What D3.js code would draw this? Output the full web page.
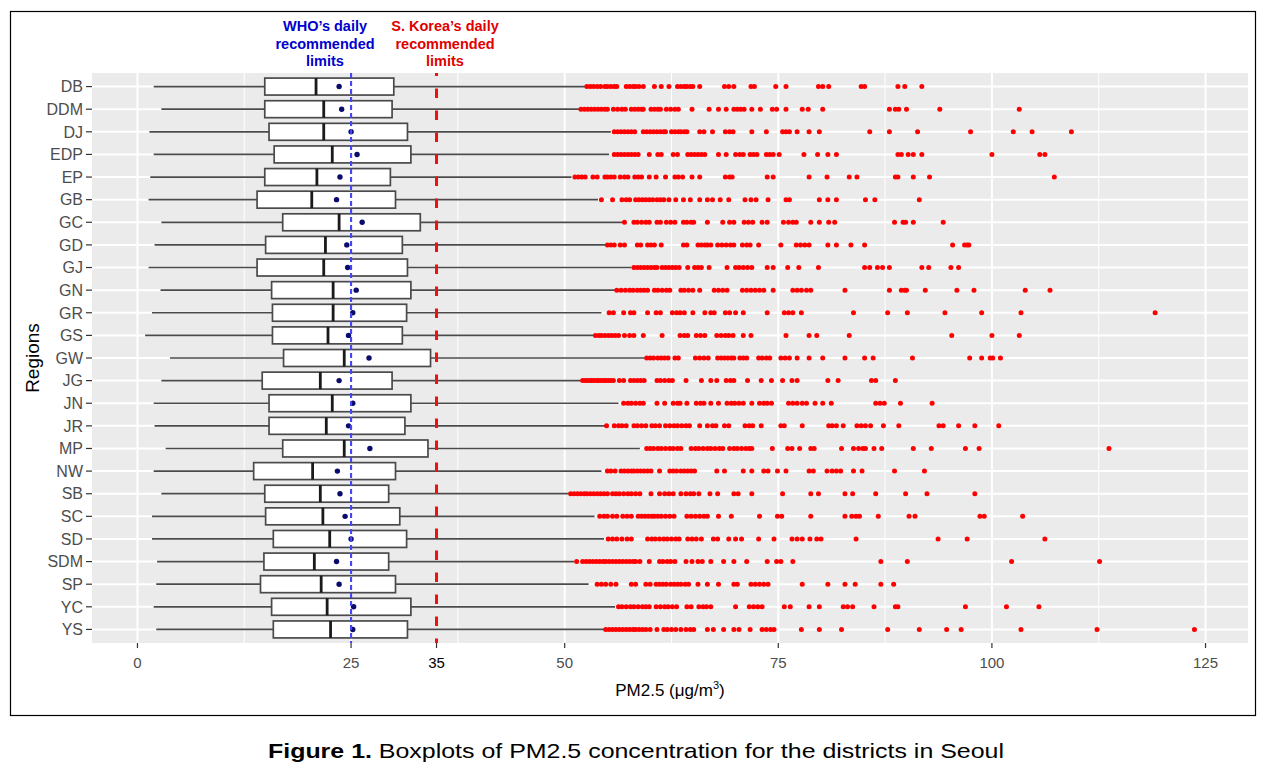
<!DOCTYPE html>
<html>
<head>
<meta charset="utf-8">
<script src="https://cdn.jsdelivr.net/npm/d3@7"></script>
<style>
  html, body { margin: 0; padding: 0; background: #ffffff; }
  svg { display: block; }
</style>
</head>
<body>
<svg id="chart" width="1276" height="769"></svg>
<script>
// ---------------- data ----------------
const regions = ["DB","DDM","DJ","EDP","EP","GB","GC","GD","GJ","GN","GR","GS","GW","JG","JN","JR","MP","NW","SB","SC","SD","SDM","SP","YC","YS"];
const lowerWhisker = [1.9,2.8,1.4,1.9,1.5,1.3,2.8,2.0,1.3,2.7,1.7,0.9,3.8,2.8,1.9,2.0,3.3,1.9,2.8,1.7,1.7,2.3,2.2,1.9,2.2];
const q1Values     = [14.9,14.9,15.4,16.0,14.9,14.0,17.0,15.0,14.0,15.7,15.8,15.8,17.1,14.6,15.4,15.4,17.0,13.6,14.9,15.0,15.9,14.8,14.4,15.7,15.9];
const medianValues = [20.9,21.8,21.8,22.8,21.0,20.4,23.6,22.0,21.8,22.9,22.9,22.3,24.2,21.4,22.8,22.1,24.2,20.5,21.4,21.7,22.5,20.7,21.5,22.2,22.6];
const q3Values     = [30.0,29.8,31.6,32.0,29.6,30.2,33.1,31.0,31.6,32.0,31.5,31.0,34.3,29.8,32.0,31.3,34.0,30.2,29.4,30.7,31.5,29.4,30.2,32.0,31.6];
const upperWhisker = [52.4,51.7,55.4,55.2,50.8,53.9,57.0,54.8,57.8,56.0,54.3,53.5,59.5,51.9,56.3,54.8,58.8,54.3,50.6,53.5,54.6,51.1,52.8,55.9,54.7];
const meanValues   = [23.6,23.9,25.0,25.7,23.7,23.3,26.3,24.5,24.6,25.6,25.2,24.7,27.1,23.6,25.2,24.7,27.2,23.4,23.7,24.3,25.0,23.3,23.6,25.3,25.2];

// outliers, in the same order as regions
const outlierValues = [
  [52.6,53.0,53.4,53.8,54.2,54.7,55.0,55.4,55.8,56.1,57.2,57.6,58.0,58.3,58.7,59.2,60.5,61.3,62.2,63.2,63.6,64.0,64.3,64.7,65.0,65.8,68.7,69.2,69.8,71.8,72.2,74.7,75.9,79.7,80.2,80.9,84.7,85.1,89.0,89.8,91.8],
  [51.9,52.3,52.7,53.1,53.5,53.9,54.3,54.7,55.0,55.7,56.2,56.7,57.1,57.8,58.2,58.6,59.0,59.2,60.1,60.5,60.9,61.2,61.9,62.4,62.9,63.3,64.9,66.9,68.0,68.9,69.8,70.2,70.6,71.0,71.9,72.9,74.3,74.8,75.9,77.8,78.5,80.2,88.0,88.7,89.1,90.0,93.9,103.2],
  [55.8,56.2,56.6,57.0,57.4,57.8,58.2,59.2,59.6,60.0,60.4,60.8,61.2,61.6,61.8,62.5,62.9,63.3,63.6,64.0,64.3,65.8,66.3,67.3,68.8,69.3,69.7,71.9,73.6,75.5,75.9,76.3,77.2,78.6,79.8,85.7,88.0,91.3,97.5,102.5,104.7,109.3],
  [55.8,56.2,56.6,57.0,57.4,57.8,58.2,58.6,59.9,60.9,61.3,62.7,63.2,64.4,64.8,65.2,65.6,66.0,66.4,68.0,68.9,70.0,70.5,70.9,71.7,72.1,72.5,73.6,74.0,74.4,75.1,78.0,79.6,80.8,81.8,89.0,89.4,90.2,90.8,91.8,100.0,105.6,106.2],
  [51.2,51.6,52.0,52.4,53.3,53.8,54.7,55.0,55.4,55.8,56.5,57.0,57.4,58.2,58.6,59.0,59.9,60.7,61.8,62.9,63.3,63.8,64.9,65.8,68.8,69.3,69.6,73.7,74.4,78.6,80.7,83.3,84.2,88.7,89.0,90.8,92.7,107.3],
  [54.3,55.6,56.7,57.2,57.6,58.3,58.7,59.1,59.5,59.9,60.3,60.8,61.2,61.6,62.2,63.0,63.9,64.7,65.8,66.7,67.3,68.2,69.2,71.1,71.8,72.4,73.8,75.9,76.3,79.8,80.8,81.8,85.2,86.3,91.5],
  [57.0,58.1,58.5,59.0,59.5,59.9,60.8,61.2,61.9,62.4,62.9,63.9,64.3,64.8,65.1,66.7,68.5,69.3,69.8,71.0,71.5,72.0,73.1,73.7,75.6,76.2,76.7,77.1,78.8,79.8,80.9,81.6,88.6,89.6,89.9,90.8,94.3],
  [55.0,55.4,55.8,56.5,57.0,58.5,58.9,59.7,60.1,60.5,61.3,63.9,64.3,65.6,66.0,66.4,66.7,67.1,67.9,68.4,68.9,69.4,69.8,70.8,71.3,71.7,72.7,75.3,77.1,77.6,78.1,78.6,80.8,81.8,83.5,85.1,95.4,96.8,97.1,97.3],
  [58.1,58.5,58.9,59.3,59.7,60.1,60.5,60.8,61.4,61.8,62.2,62.6,63.0,63.4,64.4,65.2,65.6,66.0,66.9,69.0,70.0,70.4,70.9,71.4,71.9,73.7,74.4,76.1,77.4,79.7,85.1,85.7,86.6,87.2,88.0,91.8,92.6,95.2,96.1],
  [56.1,56.6,57.1,57.6,58.0,58.5,58.9,59.3,59.7,60.5,60.9,61.4,61.9,62.3,63.6,64.0,64.5,65.0,65.8,67.5,68.0,68.5,69.0,70.8,71.3,71.8,72.3,72.8,73.3,74.4,76.7,77.2,77.7,78.3,78.8,82.8,88.0,89.4,89.8,90.0,92.2,95.9,97.9,103.9,106.8],
  [55.2,55.7,56.9,57.7,58.1,59.7,60.7,61.2,62.6,63.1,63.5,64.0,65.0,66.4,67.1,67.5,68.8,69.3,70.0,70.9,73.7,75.7,76.2,76.7,77.7,83.8,87.8,90.1,94.5,98.8,103.4,119.1],
  [53.6,54.0,54.3,54.7,55.1,55.5,55.9,56.3,57.0,57.6,58.1,59.2,61.4,63.5,64.0,64.4,65.4,65.9,66.4,67.8,68.3,68.8,69.2,69.7,70.9,71.8,75.9,78.6,79.5,83.3,95.3,100.0,103.2],
  [59.6,60.0,60.4,60.9,61.3,61.7,62.1,62.9,63.3,65.3,65.8,66.3,66.8,67.9,68.3,68.7,69.1,69.5,69.8,70.5,70.9,71.3,72.7,73.1,73.6,74.0,75.3,75.8,76.3,77.2,78.6,80.2,82.8,85.1,86.1,90.7,97.4,98.8,99.8,100.1,101.0],
  [52.1,52.4,52.7,53.0,53.2,53.5,53.8,54.0,54.3,54.6,54.8,55.1,55.4,55.7,56.4,56.9,57.7,58.1,58.5,58.9,59.3,60.8,61.2,61.7,62.2,62.6,64.2,66.0,67.1,67.8,68.9,69.4,69.8,71.4,73.0,74.2,75.5,76.6,77.2,80.8,82.0,85.9,86.4,88.7],
  [56.9,57.4,57.8,58.3,58.8,59.2,60.8,61.7,62.7,63.2,63.5,64.3,65.4,65.9,66.3,67.1,68.0,69.0,69.5,69.9,70.4,70.9,71.9,72.8,73.3,73.7,74.2,76.2,76.7,77.2,77.8,78.3,79.3,80.2,81.2,86.4,86.9,87.4,89.3,93.0],
  [54.9,55.8,56.3,56.7,57.2,58.1,58.5,59.0,59.5,60.2,60.6,61.1,61.8,62.3,62.8,63.2,63.7,64.2,64.6,65.8,66.7,67.3,67.7,68.7,69.2,71.1,71.6,72.0,73.0,75.3,75.7,77.8,80.9,81.3,81.8,82.6,84.2,84.7,85.2,85.8,87.3,89.1,93.8,94.3,96.1,98.0,100.8],
  [59.6,60.0,60.4,60.9,61.3,61.8,62.3,62.7,63.2,63.6,64.8,65.3,65.7,66.2,66.7,67.1,67.6,68.1,68.5,69.3,69.8,70.2,70.7,71.2,71.6,71.9,74.3,76.1,76.6,77.5,78.8,79.2,82.4,83.8,84.4,84.9,85.2,86.2,87.1,90.8,92.9,96.9,98.5,113.7],
  [55.0,55.4,55.9,56.6,57.0,57.4,57.8,58.1,58.5,58.9,59.3,59.7,60.1,61.1,62.3,62.7,63.1,63.6,64.0,64.4,64.8,65.2,67.8,68.7,70.9,71.9,73.3,73.8,74.9,75.9,78.6,79.1,80.7,81.3,81.8,82.3,83.8,84.8,88.6,92.1],
  [50.7,51.1,51.5,51.9,52.3,52.6,53.0,53.4,53.8,54.2,54.6,55.0,55.6,56.0,56.4,56.9,57.4,57.8,58.3,58.8,60.1,61.1,61.7,62.2,62.7,63.6,64.2,64.7,65.1,65.7,67.0,67.9,69.8,70.3,71.9,75.5,78.8,79.7,82.8,83.7,86.4,89.9,92.4,98.0],
  [54.1,54.6,55.0,55.6,56.1,56.8,57.3,57.8,58.6,59.0,59.4,59.8,60.2,60.5,60.9,61.3,61.8,62.3,62.8,64.3,64.8,65.3,65.8,66.3,66.7,68.0,69.5,72.8,74.9,75.4,78.8,82.8,83.6,84.1,84.5,86.7,90.3,91.0,98.6,99.1,103.6],
  [55.1,55.6,56.1,56.7,57.3,57.8,59.7,60.2,60.6,61.1,61.6,62.0,62.5,63.0,63.4,64.4,64.9,65.4,66.0,67.4,67.9,69.2,70.0,70.7,72.7,74.5,76.6,77.2,77.8,78.7,79.5,80.0,84.1,93.7,97.1,106.2],
  [51.4,52.1,52.5,52.9,53.3,53.7,54.1,54.5,54.8,55.2,55.6,56.0,56.4,56.8,57.2,57.6,58.0,58.3,58.8,59.9,61.1,61.5,62.0,62.4,62.9,64.2,64.9,65.6,66.1,67.1,68.6,69.8,71.3,73.7,74.8,75.3,76.7,87.0,90.1,102.3,112.6],
  [53.8,54.3,54.8,55.4,56.0,57.8,58.3,59.5,60.0,60.7,61.1,61.5,61.9,62.4,62.8,63.2,63.6,64.1,64.5,65.6,66.7,68.0,69.8,70.2,71.8,72.3,72.8,73.3,73.8,77.8,80.8,82.8,84.0,87.0,88.5],
  [56.3,56.7,57.2,57.7,58.1,58.6,59.1,59.5,59.9,60.7,61.2,61.7,62.1,62.6,63.1,64.3,64.8,65.7,66.2,66.6,67.1,70.0,71.6,72.1,72.6,73.1,75.7,76.4,78.6,79.8,82.6,83.1,83.7,86.2,88.7,89.0,96.9,101.7,105.5],
  [54.8,55.2,55.6,56.0,56.4,56.8,57.2,57.6,58.0,58.3,58.7,59.1,59.5,60.0,60.8,61.6,62.0,62.5,63.0,63.6,64.2,64.7,65.1,66.7,67.4,68.6,69.8,70.4,71.7,73.1,73.6,74.1,74.5,77.7,79.8,82.4,87.8,91.5,94.7,96.4,103.4,112.3,123.7]
];

const xTicks = [0, 25, 50, 75, 100, 125];
const xMinorTicks = [12.5, 37.5, 62.5, 87.5, 112.5];
const whoLimit = 25;
const koreaLimit = 35;
const whoLabel = ["WHO\u2019s daily", "recommended", "limits"];
const koreaLabel = ["S. Korea\u2019s daily", "recommended", "limits"];

// ---------------- layout ----------------
const svg = d3.select("#chart");
const panel = { left: 92, right: 1248, top: 73, bottom: 643 };

const x = d3.scaleLinear().domain([-5.32, 129.97]).range([panel.left, panel.right]);
const y = d3.scalePoint().domain(regions).range([panel.top, panel.bottom]).padding(0.6);
const boxH = y.step() * 0.75;

// outer frame
svg.append("rect").attr("x", 10.5).attr("y", 11.5).attr("width", 1245).attr("height", 704)
  .attr("fill", "none").attr("stroke", "#000").attr("stroke-width", 1.2);

// panel
svg.append("rect").attr("x", panel.left).attr("y", panel.top)
  .attr("width", panel.right - panel.left).attr("height", panel.bottom - panel.top)
  .attr("fill", "#EBEBEB");

const grid = svg.append("g");
grid.selectAll("line.minor").data(xMinorTicks).join("line")
  .attr("x1", d => x(d)).attr("x2", d => x(d))
  .attr("y1", panel.top).attr("y2", panel.bottom)
  .attr("stroke", "#fff").attr("stroke-width", 1);
grid.selectAll("line.majx").data(xTicks).join("line")
  .attr("x1", d => x(d)).attr("x2", d => x(d))
  .attr("y1", panel.top).attr("y2", panel.bottom)
  .attr("stroke", "#fff").attr("stroke-width", 2);
grid.selectAll("line.majy").data(regions).join("line")
  .attr("x1", panel.left).attr("x2", panel.right)
  .attr("y1", d => y(d)).attr("y2", d => y(d))
  .attr("stroke", "#fff").attr("stroke-width", 2);

// boxplots
const rows = regions.map((r, i) => ({
  r, lo: lowerWhisker[i], q1: q1Values[i], med: medianValues[i], q3: q3Values[i],
  hi: upperWhisker[i], mean: meanValues[i], out: outlierValues[i]
}));

const bp = svg.append("g");
bp.selectAll("line.wl").data(rows).join("line")
  .attr("x1", d => x(d.lo)).attr("x2", d => x(d.q1))
  .attr("y1", d => y(d.r)).attr("y2", d => y(d.r))
  .attr("stroke", "#4a4a4a").attr("stroke-width", 1.7);
bp.selectAll("line.wh").data(rows).join("line")
  .attr("x1", d => x(d.q3)).attr("x2", d => x(d.hi))
  .attr("y1", d => y(d.r)).attr("y2", d => y(d.r))
  .attr("stroke", "#4a4a4a").attr("stroke-width", 1.7);
bp.selectAll("rect.box").data(rows).join("rect")
  .attr("x", d => x(d.q1)).attr("width", d => x(d.q3) - x(d.q1))
  .attr("y", d => y(d.r) - boxH / 2).attr("height", boxH)
  .attr("fill", "#fff").attr("stroke", "#4a4a4a").attr("stroke-width", 1.7);
bp.selectAll("line.med").data(rows).join("line")
  .attr("x1", d => x(d.med)).attr("x2", d => x(d.med))
  .attr("y1", d => y(d.r) - boxH / 2).attr("y2", d => y(d.r) + boxH / 2)
  .attr("stroke", "#1a1a1a").attr("stroke-width", 2.8);

// outliers
const outG = svg.append("g");
rows.forEach(d => {
  outG.selectAll(null).data(d.out).join("circle")
    .attr("cx", v => x(v)).attr("cy", y(d.r)).attr("r", 2.5)
    .attr("fill", "#FF0000");
});

// limit lines
svg.append("line")
  .attr("x1", x(whoLimit)).attr("x2", x(whoLimit))
  .attr("y1", panel.top).attr("y2", panel.bottom)
  .attr("stroke", "#4545f2").attr("stroke-width", 2.1)
  .attr("stroke-dasharray", "5,3");
svg.append("line")
  .attr("x1", x(koreaLimit)).attr("x2", x(koreaLimit))
  .attr("y1", panel.top).attr("y2", panel.bottom)
  .attr("stroke", "#F01010").attr("stroke-width", 3)
  .attr("stroke-dasharray", "9.5,12.5").attr("stroke-dashoffset", 6.5);

// mean points
bp.append("g").selectAll("circle").data(rows).join("circle")
  .attr("cx", d => x(d.mean)).attr("cy", d => y(d.r)).attr("r", 2.7)
  .attr("fill", "#0b0b6b");

// y axis
const yAxis = svg.append("g");
yAxis.selectAll("line").data(regions).join("line")
  .attr("x1", panel.left - 6).attr("x2", panel.left)
  .attr("y1", d => y(d)).attr("y2", d => y(d))
  .attr("stroke", "#333").attr("stroke-width", 1.2);
yAxis.selectAll("text").data(regions).join("text")
  .attr("x", panel.left - 9).attr("y", d => y(d)).attr("dy", "0.36em")
  .attr("text-anchor", "end").attr("fill", "#4D4D4D")
  .attr("font-family", "Liberation Sans, Arial, sans-serif").attr("font-size", 16)
  .text(d => d);

// x axis
const xAxis = svg.append("g");
xAxis.selectAll("line").data(xTicks.concat([koreaLimit])).join("line")
  .attr("x1", d => x(d)).attr("x2", d => x(d))
  .attr("y1", panel.bottom).attr("y2", panel.bottom + 5)
  .attr("stroke", "#333").attr("stroke-width", 1.2);
xAxis.selectAll("text.tk").data(xTicks).join("text")
  .attr("x", d => x(d)).attr("y", 668)
  .attr("text-anchor", "middle").attr("fill", "#4D4D4D")
  .attr("font-family", "Liberation Sans, Arial, sans-serif").attr("font-size", 15)
  .text(d => d);
xAxis.append("text")
  .attr("x", x(koreaLimit)).attr("y", 668)
  .attr("text-anchor", "middle").attr("fill", "#000")
  .attr("font-family", "Liberation Sans, Arial, sans-serif").attr("font-size", 15)
  .text(koreaLimit);

// axis titles
const xt = svg.append("text")
  .attr("x", (panel.left + panel.right) / 2).attr("y", 696)
  .attr("text-anchor", "middle").attr("fill", "#000")
  .attr("font-family", "Liberation Sans, Arial, sans-serif").attr("font-size", 17);
xt.append("tspan").text("PM2.5 (\u03BCg/m");
xt.append("tspan").attr("font-size", 11).attr("dy", -7).text("3");
xt.append("tspan").attr("dy", 7).text(")");

svg.append("text")
  .attr("transform", `translate(39,${(panel.top + panel.bottom) / 2}) rotate(-90)`)
  .attr("text-anchor", "middle").attr("fill", "#000")
  .attr("font-family", "Liberation Sans, Arial, sans-serif").attr("font-size", 19)
  .text("Regions");

// annotations
function annot(lines, cx, color) {
  lines.forEach((l, i) => {
    svg.append("text")
      .attr("x", cx).attr("y", 31 + i * 17.5)
      .attr("text-anchor", "middle").attr("fill", color)
      .attr("font-family", "Liberation Sans, Arial, sans-serif")
      .attr("font-weight", "bold").attr("font-size", 14.5)
      .text(l);
  });
}
annot(whoLabel, 325, "#0000CC");
annot(koreaLabel, 445, "#E00000");

// caption
const cap = svg.append("text")
  .attr("x", 268).attr("y", 758)
  .attr("fill", "#000")
  .attr("font-family", "Liberation Sans, Arial, sans-serif")
  .attr("font-size", 21)
  .attr("textLength", 736).attr("lengthAdjust", "spacingAndGlyphs");
cap.append("tspan").attr("font-weight", "bold").text("Figure 1.");
cap.append("tspan").text(" Boxplots of PM2.5 concentration for the districts in Seoul");
</script>
</body>
</html>
